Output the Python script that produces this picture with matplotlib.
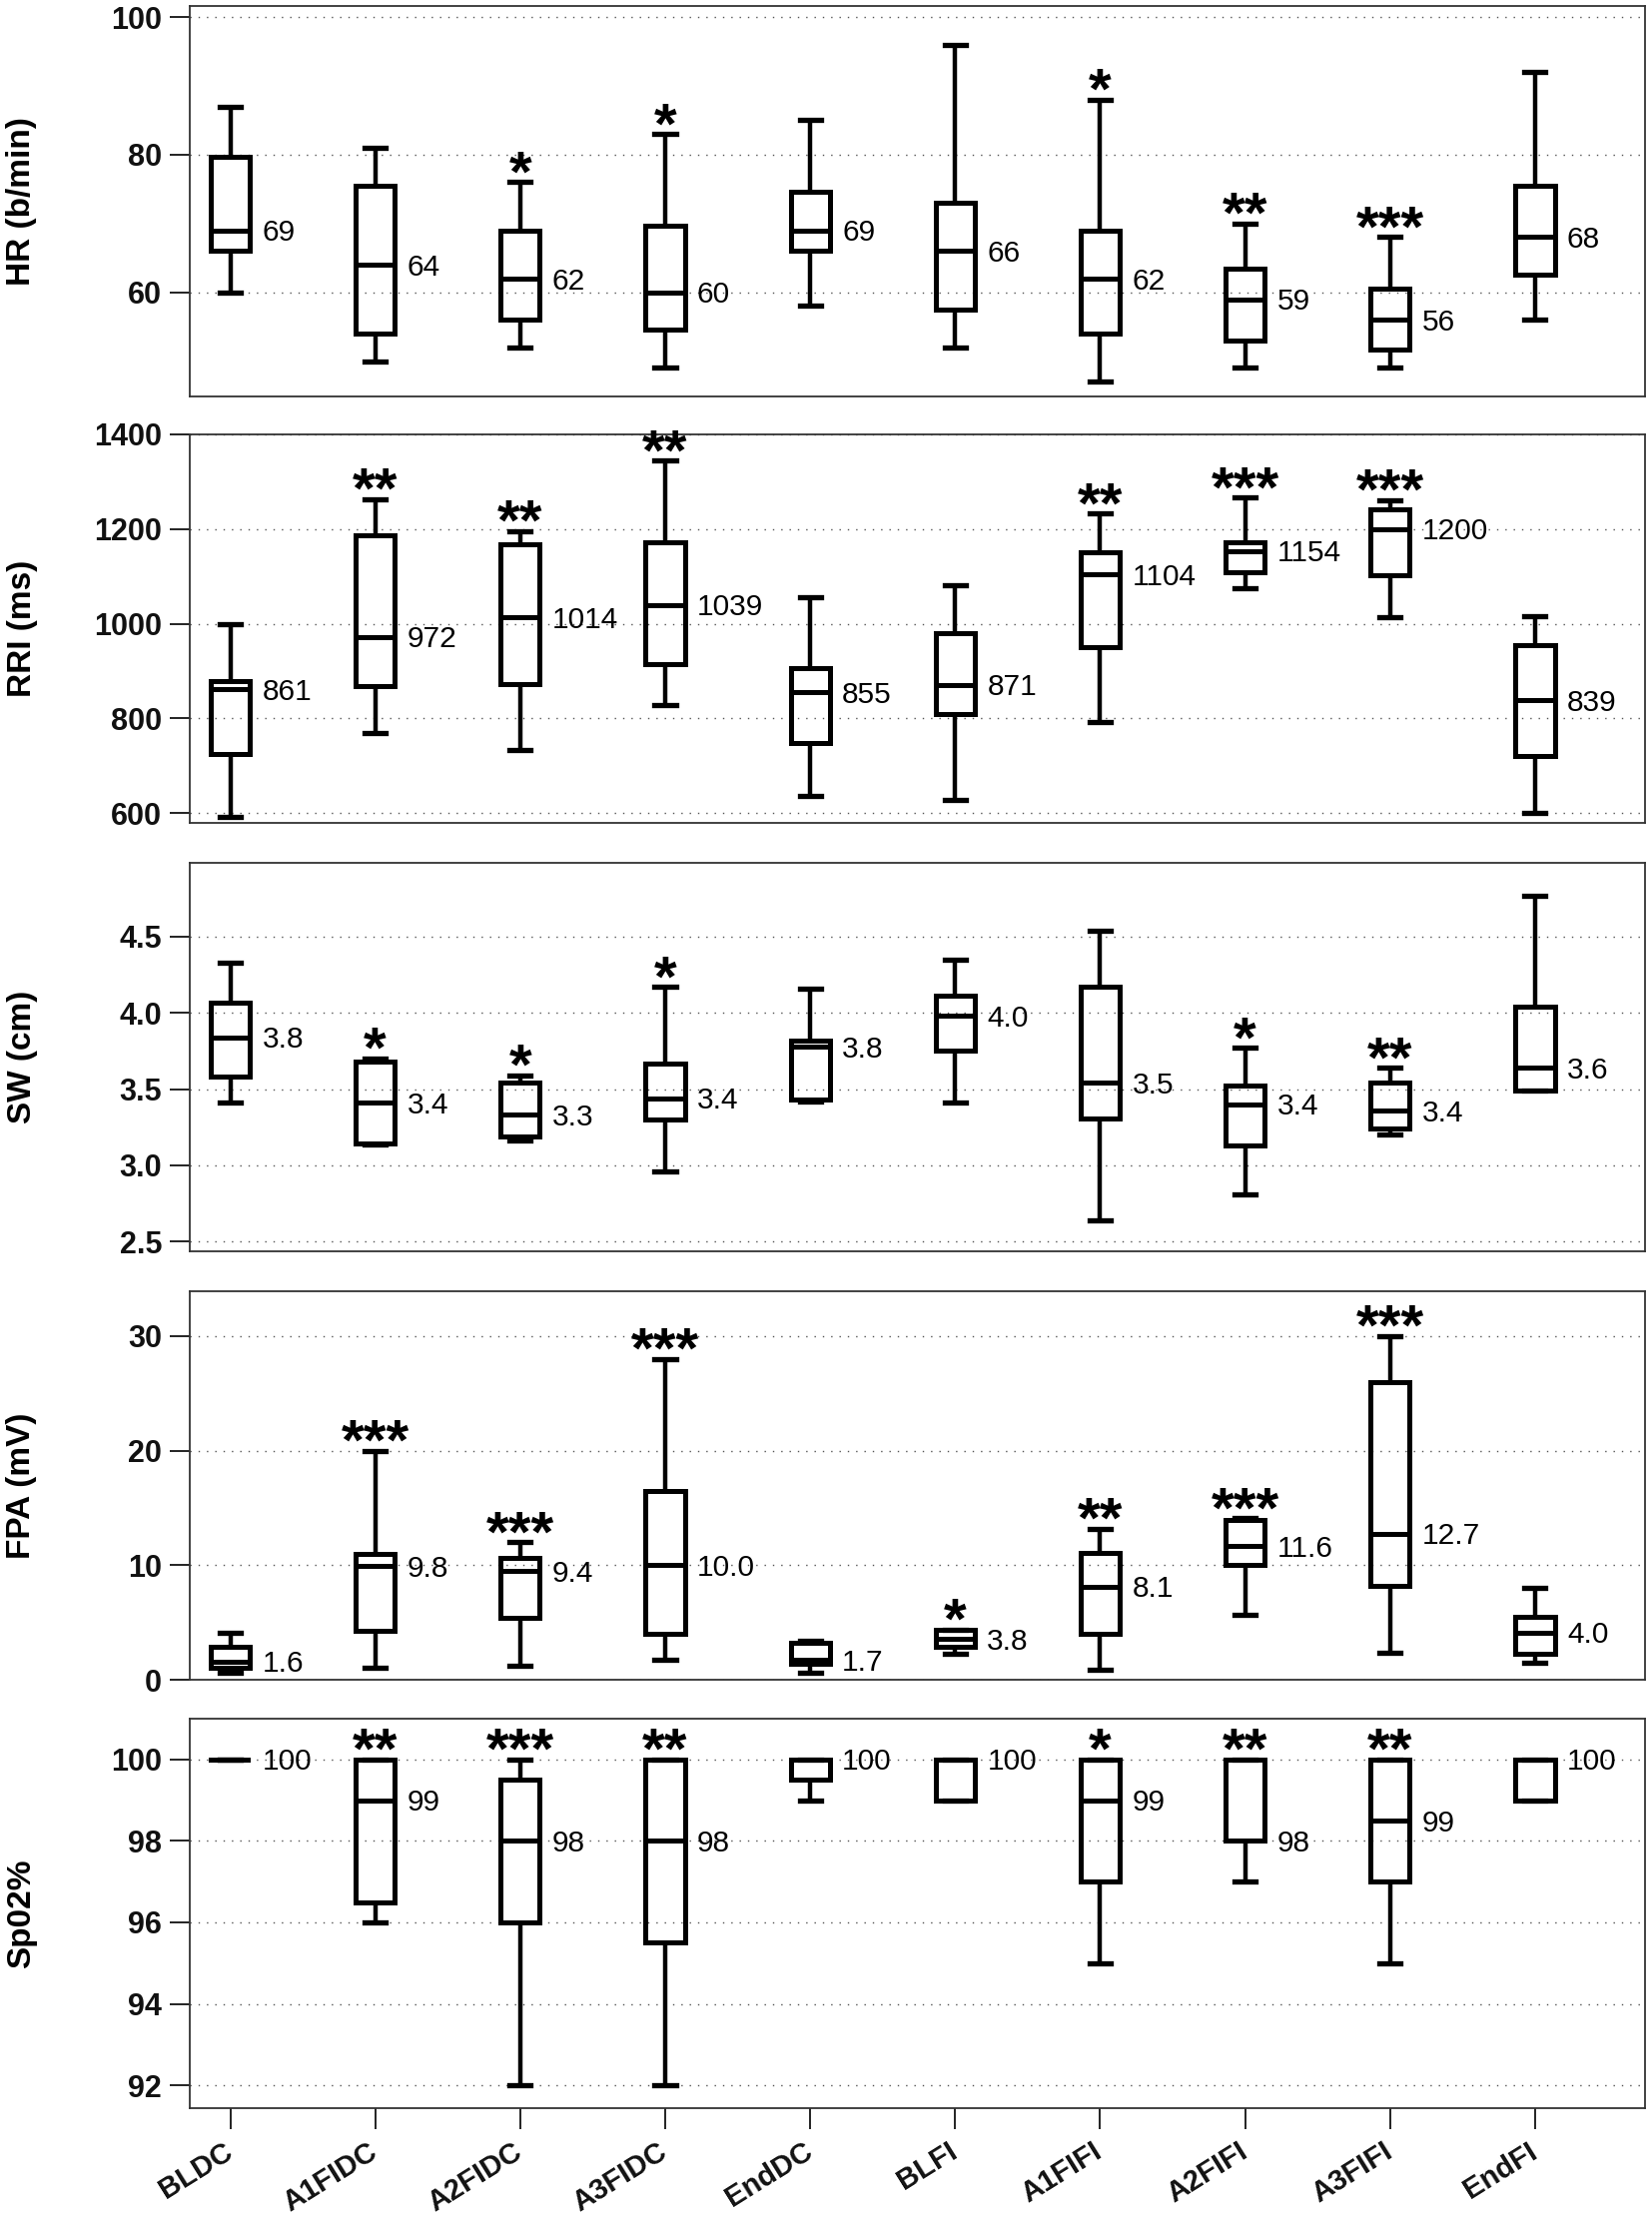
import matplotlib
matplotlib.use('Agg')
import matplotlib.pyplot as plt
from matplotlib.transforms import ScaledTranslation

plt.rcParams['font.family'] = ['Liberation Sans', 'DejaVu Sans']

groups = ['BLDC', 'A1FIDC', 'A2FIDC', 'A3FIDC', 'EndDC',
          'BLFI', 'A1FIFI', 'A2FIFI', 'A3FIFI', 'EndFI']

# ---- HR (b/min)
hr_lo = [60, 50, 52, 49, 58, 52, 47, 49, 49, 56]
hr_q1 = [66, 54, 56, 54.6, 66, 57.5, 54, 53, 51.6, 62.6]
hr_med = [69, 64, 62, 60, 69, 66, 62, 59, 56, 68]
hr_q3 = [79.7, 75.5, 69, 69.6, 74.6, 73, 69, 63.5, 60.5, 75.5]
hr_hi = [87, 81, 76, 83, 85, 96, 88, 70, 68, 92]
hr_labels = ['69', '64', '62', '60', '69', '66', '62', '59', '56', '68']
hr_stars = ['', '', '*', '*', '', '', '*', '**', '***', '']
hr_ticks = [60, 80, 100]

# ---- RRI (ms)
rri_lo = [591, 769, 734, 827, 637, 628, 793, 1076, 1013, 601]
rri_q1 = [724, 869, 872, 915, 747, 808, 951, 1108, 1102, 721]
rri_med = [861, 972, 1014, 1040, 855, 871, 1104, 1154, 1200, 839]
rri_q3 = [878, 1187, 1168, 1173, 906, 981, 1150, 1173, 1242, 955]
rri_hi = [1000, 1263, 1196, 1345, 1057, 1082, 1233, 1266, 1261, 1015]
rri_labels = ['861', '972', '1014', '1039', '855', '871', '1104', '1154', '1200', '839']
rri_stars = ['', '**', '**', '**', '', '', '**', '***', '***', '']
rri_ticks = [600, 800, 1000, 1200, 1400]

# ---- SW (cm)
sw_lo = [3.41, 3.135, 3.16, 2.96, 3.42, 3.41, 2.64, 2.81, 3.20, 3.49]
sw_q1 = [3.58, 3.14, 3.19, 3.30, 3.43, 3.75, 3.31, 3.13, 3.24, 3.49]
sw_med = [3.84, 3.41, 3.33, 3.44, 3.78, 3.98, 3.54, 3.40, 3.36, 3.64]
sw_q3 = [4.065, 3.68, 3.54, 3.67, 3.82, 4.11, 4.17, 3.52, 3.54, 4.04]
sw_hi = [4.33, 3.70, 3.59, 4.17, 4.16, 4.35, 4.54, 3.77, 3.64, 4.77]
sw_labels = ['3.8', '3.4', '3.3', '3.4', '3.8', '4.0', '3.5', '3.4', '3.4', '3.6']
sw_stars = ['', '*', '*', '*', '', '', '', '*', '**', '']
sw_ticks = [2.5, 3.0, 3.5, 4.0, 4.5]

# ---- FPA (mV)
fpa_lo = [0.58, 1.02, 1.22, 1.74, 0.58, 2.3, 0.84, 5.64, 2.33, 1.45]
fpa_q1 = [1.08, 4.27, 5.44, 3.98, 1.37, 2.9, 4.04, 10.03, 8.2, 2.24]
fpa_med = [1.6, 9.94, 9.5, 10.0, 1.7, 3.55, 8.14, 11.69, 12.76, 4.13]
fpa_q3 = [2.88, 11.0, 10.6, 16.5, 3.2, 4.36, 11.08, 13.9, 26.0, 5.5]
fpa_hi = [4.13, 20.0, 12.0, 28.0, 3.4, 4.36, 13.2, 14.1, 30.0, 8.05]
fpa_labels = ['1.6', '9.8', '9.4', '10.0', '1.7', '3.8', '8.1', '11.6', '12.7', '4.0']
fpa_stars = ['', '***', '***', '***', '', '*', '**', '***', '***', '']
fpa_ticks = [0, 10, 20, 30]

# ---- Sp02%
sp_lo = [100, 96, 92, 92, 99, 99, 95, 97, 95, 99]
sp_q1 = [100, 96.5, 96, 95.5, 99.5, 99, 97, 98, 97, 99]
sp_med = [100, 99, 98, 98, 100, 100, 99, 98, 98.5, 100]
sp_q3 = [100, 100, 99.5, 100, 100, 100, 100, 100, 100, 100]
sp_hi = [100, 100, 100, 100, 100, 100, 100, 100, 100, 100]
sp_labels = ['100', '99', '98', '98', '100', '100', '99', '98', '99', '100']
sp_stars = ['', '**', '***', '**', '', '', '*', '**', '**', '']
sp_ticks = [92, 94, 96, 98, 100]

panels = [
    ('HR (b/min)', hr_lo, hr_q1, hr_med, hr_q3, hr_hi, hr_labels, hr_stars, hr_ticks, (44.85, 101.6), '%d'),
    ('RRI (ms)', rri_lo, rri_q1, rri_med, rri_q3, rri_hi, rri_labels, rri_stars, rri_ticks, (579, 1400), '%d'),
    ('SW (cm)', sw_lo, sw_q1, sw_med, sw_q3, sw_hi, sw_labels, sw_stars, sw_ticks, (2.435, 4.985), '%.1f'),
    ('FPA (mV)', fpa_lo, fpa_q1, fpa_med, fpa_q3, fpa_hi, fpa_labels, fpa_stars, fpa_ticks, (0, 33.9), '%d'),
    ('Sp02%', sp_lo, sp_q1, sp_med, sp_q3, sp_hi, sp_labels, sp_stars, sp_ticks, (91.44, 101.0), '%d'),
]

W, H = 1654, 2221
fig = plt.figure(figsize=(W / 100, H / 100), dpi=100)

# panel pixel extents (top, bottom)
extents = [(6, 397), (435, 824), (864, 1253), (1293, 1682), (1721, 2111)]
ax_left, ax_right = 190, 1647
positions = list(range(1, len(groups) + 1))

lw_box = 3.6
for i, (ylabel, lo, q1, med, q3, hi, labels, stars, ticks, ylim, fmt) in enumerate(panels):
    top, bot = extents[i]
    ax = fig.add_axes([ax_left / W, 1 - bot / H, (ax_right - ax_left) / W, (bot - top) / H])
    stats = []
    for k in range(len(groups)):
        stats.append(dict(whislo=lo[k], q1=q1[k], med=med[k], q3=q3[k], whishi=hi[k], fliers=[]))
    line_kw = dict(color='black', solid_joinstyle='miter', solid_capstyle='projecting')
    ax.bxp(stats, positions=positions, widths=0.27, capwidths=0.145, showfliers=False,
           boxprops=dict(linewidth=lw_box, **line_kw),
           medianprops=dict(linewidth=lw_box, color='black', solid_capstyle='butt'),
           whiskerprops=dict(linewidth=3.2, color='black', solid_capstyle='butt'),
           capprops=dict(linewidth=3.8, **line_kw))
    ax.set_xlim(0.721, 10.758)
    ax.set_ylim(*ylim)
    ax.set_yticks(ticks, [fmt % t for t in ticks], fontsize=22, fontweight='bold')
    ax.tick_params(axis='y', length=14.5, width=1.3, pad=5.5, colors='#111111')
    ax.yaxis.grid(True, linestyle=(0, (1, 5)), color='#555555', linewidth=1.0)
    ax.set_axisbelow(True)
    for sp in ax.spines.values():
        sp.set_color('#333333')
        sp.set_linewidth(1.3)
    for k in range(len(groups)):
        ax.annotate(labels[k], (positions[k], med[k]), xytext=(23, -7.7),
                    textcoords='offset points', ha='left', va='baseline', fontsize=21.5)
        if stars[k]:
            ax.annotate(stars[k], (positions[k], hi[k]), xytext=(0, -6.5),
                        textcoords='offset points', ha='center', va='baseline',
                        fontsize=42, fontweight='bold')
    fig.text(22 / W, 1 - (top + bot) / 2 / H, ylabel, rotation=90, ha='center', va='center',
             fontsize=24, fontweight='bold')
    if i < len(panels) - 1:
        ax.set_xticks(positions)
        ax.tick_params(axis='x', bottom=False, labelbottom=False)
    else:
        ax.set_xticks(positions, groups, rotation=32, ha='right', va='top', fontsize=21,
                      fontweight='bold')
        ax.tick_params(axis='x', length=15, width=1.3, pad=6.0, colors='#111111')
        off = ScaledTranslation(7 / 100, 0, fig.dpi_scale_trans)
        for lbl in ax.get_xticklabels():
            lbl.set_transform(lbl.get_transform() + off)

fig.savefig('out.png', dpi=100)
